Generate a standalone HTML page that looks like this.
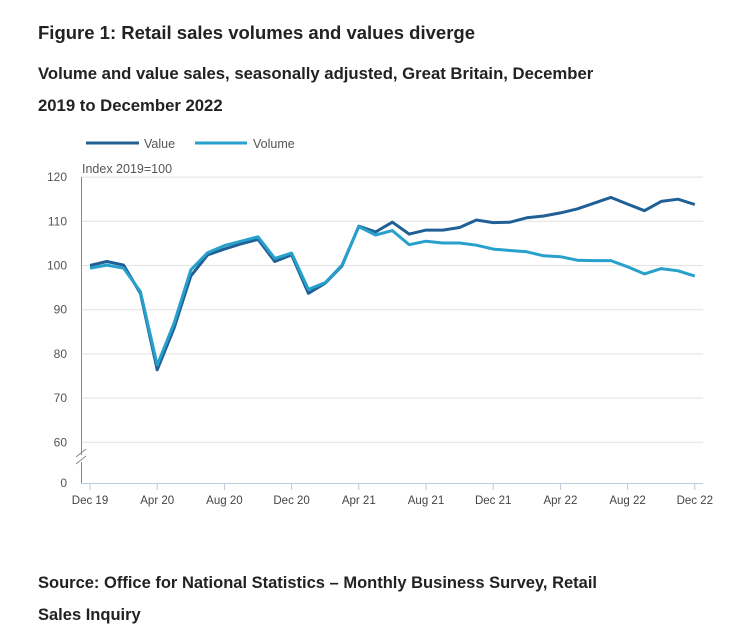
<!DOCTYPE html>
<html><head><meta charset="utf-8"><style>
body{margin:0;background:#fff;width:754px;height:629px;overflow:hidden;font-family:"Liberation Sans",sans-serif;color:#222}
svg text{font-family:"Liberation Sans",sans-serif}
</style></head><body>
<svg width="754" height="629">
<text x="38" y="39" font-size="18.5" font-weight="bold" fill="#222">Figure 1: Retail sales volumes and values diverge</text>
<text x="38" y="79" font-size="16.7" font-weight="bold" fill="#222">Volume and value sales, seasonally adjusted, Great Britain, December</text>
<text x="38" y="111" font-size="16.7" font-weight="bold" fill="#222">2019 to December 2022</text>
<g>
<line x1="86" y1="143" x2="139" y2="143" stroke="#206095" stroke-width="3"/>
<text x="144" y="148" font-size="12.5" fill="#555">Value</text>
<line x1="195" y1="143" x2="247" y2="143" stroke="#27a0cc" stroke-width="3"/>
<text x="253" y="148" font-size="12.5" fill="#555">Volume</text>
</g>
<text x="82" y="173" font-size="12.5" fill="#555">Index 2019=100</text>
<g id="grid"></g>
<g id="xaxis"></g>
<g id="series"></g>
<text x="38" y="588" font-size="16.5" font-weight="bold" fill="#222">Source: Office for National Statistics – Monthly Business Survey, Retail</text>
<text x="38" y="620" font-size="16.5" font-weight="bold" fill="#222">Sales Inquiry</text>
</svg>
<script>
const yTicks=[60,70,80,90,100,110,120];
const xLabels=["Dec 19","Apr 20","Aug 20","Dec 20","Apr 21","Aug 21","Dec 21","Apr 22","Aug 22","Dec 22"];
const valueSeries=[100.0,100.9,100.1,93.7,76.4,85.8,97.6,102.4,103.7,104.9,105.9,100.9,102.4,93.7,96.0,99.9,108.9,107.6,109.8,107.1,108.0,108.0,108.6,110.3,109.7,109.8,110.8,111.2,111.9,112.8,114.1,115.4,113.9,112.4,114.5,115.0,113.8];
const volumeSeries=[99.4,100.1,99.4,94.1,77.5,86.9,99.0,102.9,104.5,105.5,106.5,101.6,102.8,94.6,96.1,100.1,108.8,106.9,107.9,104.7,105.5,105.1,105.1,104.6,103.7,103.4,103.1,102.2,102.0,101.2,101.1,101.1,99.7,98.1,99.3,98.8,97.6];
const NS="http://www.w3.org/2000/svg";
const X=i=>90+16.8*i;
const Y=v=>442.3-(v-60)*4.42;
const grid=document.getElementById('grid');
function mk(tag,attrs,parent){const e=document.createElementNS(NS,tag);for(const k in attrs)e.setAttribute(k,attrs[k]);parent.appendChild(e);return e;}
yTicks.forEach(v=>{
 const l=mk('line',{x1:81,x2:703,y1:Y(v),y2:Y(v),stroke:'#e2e2e2','stroke-width':1},grid);
 
 
 const t=mk('text',{x:67,y:Y(v)+4,'font-size':12,fill:'#555','text-anchor':'end'},grid);
 t.textContent=v;
 
 
});
const z=mk('text',{x:67,y:487,'font-size':12,fill:'#555','text-anchor':'end'},grid);z.textContent='0';


const xa=document.getElementById('xaxis');
const ya=mk('path',{d:'M81.5 177V455M81.5 462V483',stroke:'#888',fill:'none'},xa);


const br=mk('path',{d:'M76 457L86 449M76 464L86 456',stroke:'#888',fill:'none'},xa);


const bl=mk('line',{x1:81,x2:703,y1:483.5,y2:483.5,stroke:'#bcc8dc'},xa);


xLabels.forEach((s,k)=>{
 const x=X(k*4);
 const tk=mk('line',{x1:x,x2:x,y1:483,y2:490,stroke:'#bcc8dc'},xa);
 
 
 const t=mk('text',{x:x,y:504,'font-size':11.5,fill:'#444','text-anchor':'middle'},xa);
 t.textContent=s;
 
 
});
const sg=document.getElementById('series');
function line(arr,col,name){
 const d=arr.map((v,i)=>(i?'L':'M')+X(i).toFixed(1)+' '+Y(v).toFixed(1)).join('');
 const p=mk('path',{d:d,stroke:col,'stroke-width':3,fill:'none','stroke-linejoin':'round'},sg);
 
 
}
line(valueSeries,'#206095','value-line');
line(volumeSeries,'#27a0cc','volume-line');
</script>
</body></html>
